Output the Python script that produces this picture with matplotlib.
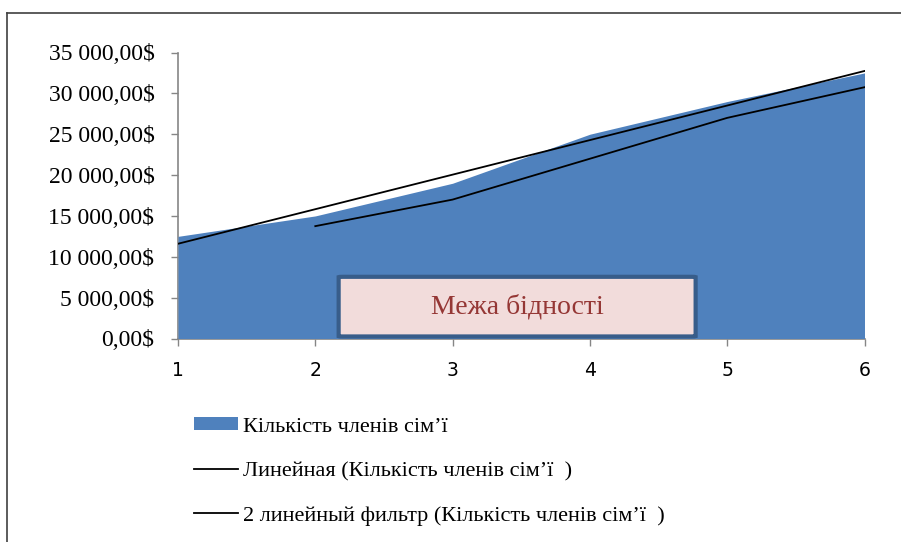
# plot.py
# Area chart of family size cost with linear trendline and 2-period moving average

import numpy as np
import pandas as pd
import matplotlib.pyplot as plt
from matplotlib.patches import FancyBboxPatch
from matplotlib.lines import Line2D
from matplotlib.ticker import FuncFormatter

plt.rcParams['font.family'] = ['Liberation Serif', 'DejaVu Serif']

# Data
members = [1, 2, 3, 4, 5, 6]
cost = [12500, 15000, 19000, 25000, 29000, 32500]
y_ticks = [0, 5000, 10000, 15000, 20000, 25000, 30000, 35000]

series_label = 'Кількість членів сім’ї'
trend_label = 'Линейная (Кількість членів сім’ї  )'
ma_label = '2 линейный фильтр (Кількість членів сім’ї  )'
box_text = 'Межа бідності'

# Trendline and moving average as Excel computes them
slope, intercept = np.polyfit(members, cost, 1)
trend = [slope * x + intercept for x in members]
moving_avg = pd.Series(cost).rolling(2).mean()

area_color = '#4F81BD'
axis_color = '#868686'

W, H = 901, 542
fig = plt.figure(figsize=(W / 100, H / 100), dpi=100)
ax = fig.add_axes([178 / W, 1 - 338.5 / H, (864.5 - 178) / W, (338.5 - 52.5) / H])

ax.fill_between(members, cost, 0, color=area_color, linewidth=0, zorder=2)
ax.plot(members, trend, color='black', linewidth=1.3, zorder=3)
ax.plot(members, moving_avg, color='black', linewidth=1.3, zorder=3)

ax.set_xlim(members[0], members[-1])
ax.set_ylim(0, 35000)
ax.set_xticks(members)
ax.set_yticks(y_ticks)

def money(v, pos):
    return f'{int(v):,}'.replace(',', ' ') + ',00$'

ax.yaxis.set_major_formatter(FuncFormatter(money))
ax.tick_params(axis='y', direction='out', length=5, width=1, color=axis_color,
               labelsize=17, pad=12)
ax.tick_params(axis='x', direction='out', length=5, width=1, color=axis_color,
               labelsize=13.5, pad=11)
for lbl in ax.get_xticklabels():
    lbl.set_family('DejaVu Sans')

for side in ['top', 'right']:
    ax.spines[side].set_visible(False)
for side in ['left', 'bottom']:
    ax.spines[side].set_color(axis_color)
    ax.spines[side].set_linewidth(1.2)
    ax.spines[side].set_zorder(1)

# "Межа бідності" text box
box = FancyBboxPatch((2.17, 250), 2.6, 7300,
                     boxstyle='round,pad=0,rounding_size=0.03',
                     facecolor='#F2DCDB', edgecolor='#385D8A', linewidth=3,
                     mutation_aspect=7300 / 2.6 * 0.5, zorder=4)
ax.add_patch(box)
ax.text(2.17 + 1.3, 250 + 3650, box_text, ha='center', va='center',
        fontsize=20, color='#953735', zorder=5)

# Legend
handles = [
    plt.Rectangle((0, 0), 1, 1, facecolor=area_color, edgecolor='none'),
    Line2D([0], [0], color='black', linewidth=1.3),
    Line2D([0], [0], color='black', linewidth=1.3),
]
fig.legend(handles, [series_label, trend_label, ma_label],
           loc='upper left', bbox_to_anchor=(194 / W, 1 - 417 / H),
           frameon=False, fontsize=16, handlelength=2.0, handleheight=0.55,
           handletextpad=0.2, labelspacing=1.12, borderpad=0, borderaxespad=0)

# Outer frame (top and left edges only)
fig.add_artist(Line2D([7 / W, 1], [1 - 13 / H, 1 - 13 / H], color='#404040',
                      linewidth=1.2, transform=fig.transFigure))
fig.add_artist(Line2D([7 / W, 7 / W], [0, 1 - 13 / H], color='#404040',
                      linewidth=1.2, transform=fig.transFigure))

fig.savefig('out.png', dpi=100, facecolor='white')
